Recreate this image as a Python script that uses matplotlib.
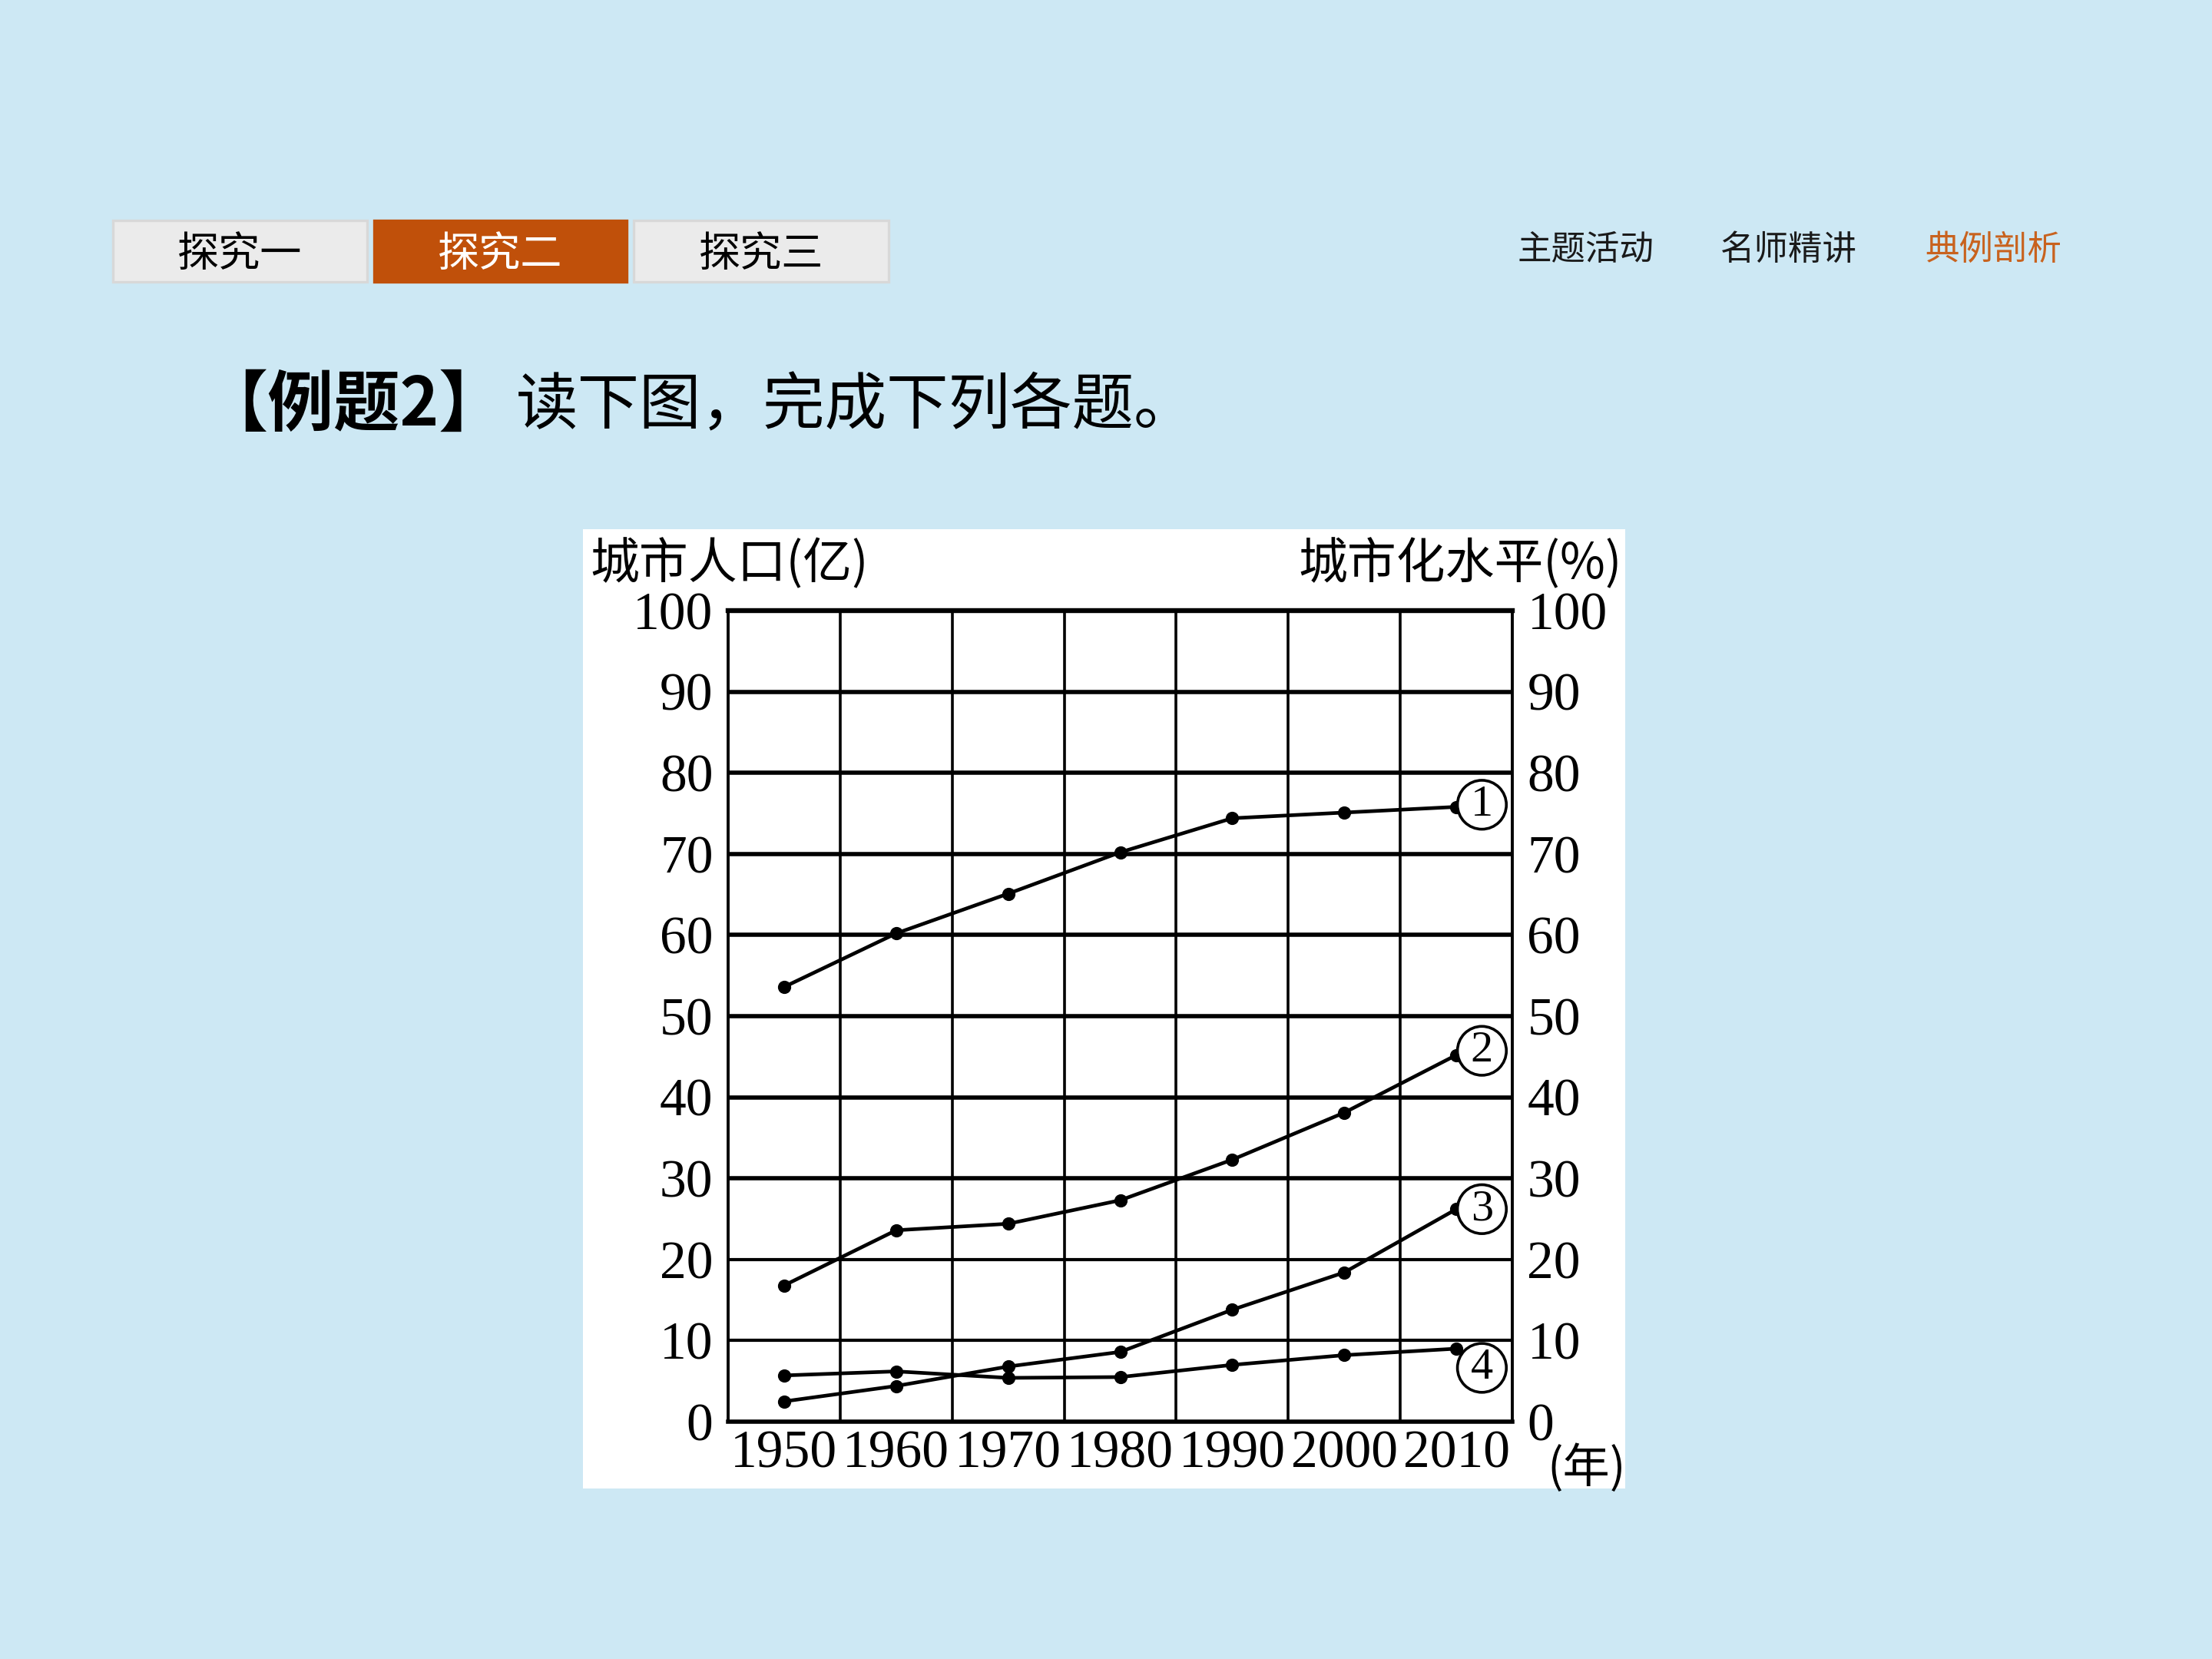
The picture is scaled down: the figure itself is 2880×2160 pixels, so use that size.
import numpy as np
import matplotlib
matplotlib.use("Agg")
import matplotlib.pyplot as plt
from matplotlib.patches import Rectangle

plt.rcParams['font.family'] = ['Noto Sans CJK SC', 'DejaVu Sans']

# chart data
years = [1950, 1960, 1970, 1980, 1990, 2000, 2010]
series_1 = [53.6, 60.2, 65.1, 70.2, 74.4, 75.1, 75.8]
series_2 = [16.8, 23.6, 24.4, 27.3, 32.3, 38.1, 45.2]
series_3 = [2.5, 4.4, 6.8, 8.6, 13.8, 18.4, 26.2]
series_4 = [5.7, 6.2, 5.4, 5.5, 7.0, 8.2, 9.0]
series_names = ['1', '2', '3', '4']
y_ticks = [0, 10, 20, 30, 40, 50, 60, 70, 80, 90, 100]
grid_years = [1955, 1965, 1975, 1985, 1995, 2005]

tab_labels = ['探究一', '探究二', '探究三']
nav_labels = ['主题活动', '名师精讲', '典例剖析']

W, H = 2880, 2160
fig = plt.figure(figsize=(14.4, 10.8), dpi=200)
fig.patch.set_facecolor('#cde8f4')

def px(x, y):
    return x / W, 1 - y / H

# tabs at the top
tab_boxes = [(147, 478), (487, 816), (825, 1157)]
for i, (lab, (x0, x1)) in enumerate(zip(tab_labels, tab_boxes)):
    active = (i == 1)
    fc = '#c0500a' if active else '#ebebeb'
    ec = '#c0500a' if active else '#d8d8d8'
    fx0, fy1 = px(x0, 287)
    fx1, fy0 = px(x1, 367)
    fig.patches.append(Rectangle((fx0, fy0), fx1 - fx0, fy1 - fy0, transform=fig.transFigure,
                                 facecolor=fc, edgecolor=ec, lw=1.2, zorder=-1))
    fig.text((fx0 + fx1) / 2, (fy0 + fy1) / 2 - 0.002, lab, ha='center', va='center',
             fontsize=19.5, color='white' if active else 'black')

nav_x = [2065, 2329, 2595]
for i, (lab, x) in enumerate(zip(nav_labels, nav_x)):
    fx, fy = px(x, 325)
    fig.text(fx, fy, lab, ha='center', va='center', fontsize=16,
             color='#c8621e' if i == 2 else '#1a1a1a')

# question title
fx, fy = px(262, 529)
fig.text(fx, fy, '【例题2】', ha='left', va='center', fontsize=31, fontweight='bold')
fx, fy = px(672, 529)
fig.text(fx, fy, '读下图，完成下列各题。', ha='left', va='center', fontsize=29)

# white picture area
fx0, fy1 = px(759, 689)
fx1, fy0 = px(2116, 1938)
fig.patches.append(Rectangle((fx0, fy0), fx1 - fx0, fy1 - fy0, transform=fig.transFigure,
                             facecolor='white', edgecolor='none', zorder=-1))

# plot area
ax_l, ax_t = px(948, 795)
ax_r, ax_b = px(1969, 1851)
ax = fig.add_axes([ax_l, ax_b, ax_r - ax_l, ax_t - ax_b])
ax.set_zorder(2)
ax.set_facecolor('white')
ax.set_xlim(1945, 2015)
ax.set_ylim(0, 100)

for y in y_ticks[1:-1]:
    ax.axhline(y, color='black', lw=2.0 if y > 20 else 1.5, zorder=1)
for x in grid_years:
    ax.axvline(x, color='black', lw=1.3, zorder=1)

for s in ['left', 'right']:
    ax.spines[s].set_linewidth(1.4)
ax.spines['top'].set_linewidth(2.3)
ax.spines['bottom'].set_linewidth(2.0)

ax.set_yticks(y_ticks)
ax.set_xticks(years)
ax.tick_params(axis='both', length=0, labelsize=25)
ax.tick_params(axis='y', pad=7, labelright=True, right=True)
ax.tick_params(axis='x', pad=4)
for lab in ax.get_xticklabels() + ax.get_yticklabels():
    lab.set_fontfamily('Liberation Serif')
for t in ax.yaxis.get_major_ticks():
    t.label2.set_fontfamily('Liberation Serif')

all_series = [series_1, series_2, series_3, series_4]
label_offsets = [(12, 1), (12, 2), (12, 0), (12, -9)]
for vals, name, off in zip(all_series, series_names, label_offsets):
    ax.plot(years, vals, color='black', lw=1.7, marker='o', markersize=5.2, zorder=3)
    ax.annotate(name, xy=(years[-1], vals[-1]), xytext=off, textcoords='offset points',
                ha='center', va='center', fontsize=21, family='Liberation Serif',
                bbox=dict(boxstyle='circle,pad=0.1', fc='white', ec='black', lw=1.3),
                zorder=4)

# axis captions
fx, fy = px(768, 735)
fig.text(fx, fy, '城市人口(亿)', ha='left', va='center', fontsize=23)
fx, fy = px(2112, 735)
fig.text(fx, fy, '城市化水平(%)', ha='right', va='center', fontsize=23)
fx, fy = px(2066, 1912)
fig.text(fx, fy, '(年)', ha='center', va='center', fontsize=22)

fig.savefig('out.png', dpi=200, facecolor=fig.get_facecolor())
